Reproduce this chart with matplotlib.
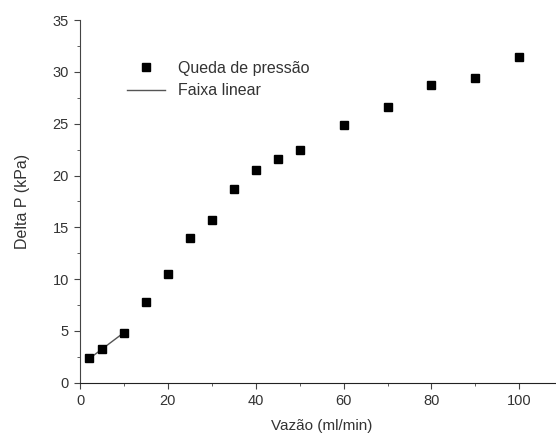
# Pressure drop across the column versus flow rate, with the linear range fit
import numpy as np
import matplotlib.pyplot as plt
from matplotlib.ticker import MultipleLocator

plt.rcParams['font.family'] = ['Liberation Sans', 'DejaVu Sans']

# measured data
vazao   = [2, 5, 10, 15, 20, 25, 30, 35, 40, 45, 50, 60, 70, 80, 90, 100] # ml/min
delta_p = [2.35, 3.3, 4.85, 7.8, 10.5, 13.95, 15.7, 18.7, 20.55, 21.6,
           22.45, 24.85, 26.65, 28.75, 29.45, 31.45]                      # kPa

# linear range (first three points)
vazao_lin   = [2, 10]
delta_p_lin = [2.3, 4.85]

# figure
fig = plt.figure(figsize=(5.56, 4.37), dpi=100)
ax  = fig.add_axes([0.144, 0.124, 0.869, 0.830])

ax.plot(vazao_lin, delta_p_lin, color='#555555', lw=1.0, label='Faixa linear')
ax.plot(vazao, delta_p, 's', color='black', ms=5.5, label='Queda de pressão')

ax.set_xlim((0, 110))
ax.set_ylim((0, 35))
ax.xaxis.set_major_locator(MultipleLocator(20))
ax.xaxis.set_minor_locator(MultipleLocator(10))
ax.yaxis.set_major_locator(MultipleLocator(5))
ax.yaxis.set_minor_locator(MultipleLocator(2.5))

ax.spines['top'].set_visible(False)
ax.spines['right'].set_visible(False)
ax.spines['left'].set_color('#444444')
ax.spines['bottom'].set_color('#222222')
ax.tick_params(which='major', length=4, color='#444444', labelsize=10.5,
               labelcolor='#333333', pad=4)
ax.tick_params(which='minor', length=2.5, color='#444444')

ax.set_xlabel('Vazão (ml/min)', fontsize=11, color='#333333', labelpad=8)
ax.set_ylabel('Delta P (kPa)', fontsize=11.5, color='#333333', labelpad=16)

# legend: markers first, then the fit line
handles, labels = ax.get_legend_handles_labels()
ax.legend(handles[::-1], labels[::-1], loc='upper left',
          bbox_to_anchor=(0.097, 0.887), borderaxespad=0, borderpad=0,
          frameon=False, fontsize=11.5, labelcolor='#333333',
          handlelength=2.4, handletextpad=0.8, labelspacing=0.45,
          numpoints=1)

fig.savefig('out.png', dpi=100)
